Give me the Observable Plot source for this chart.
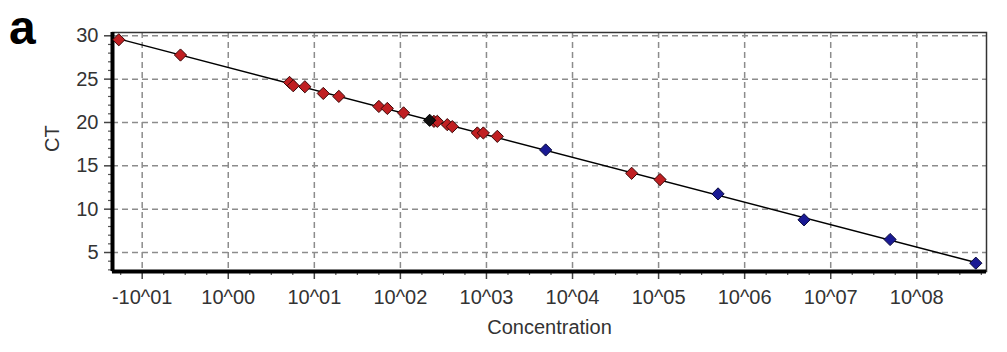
<!DOCTYPE html>
<html><head><meta charset="utf-8">
<script src="https://cdn.jsdelivr.net/npm/d3@7"></script>
<script src="https://cdn.jsdelivr.net/npm/@observablehq/plot@0.6"></script>
<style>
html,body{margin:0;padding:0;background:#fff;}
#wrap{position:relative;width:1007px;height:352px;overflow:hidden;}
#panel{position:absolute;left:9px;top:0px;font:bold 48px "Liberation Sans",Arial,sans-serif;line-height:normal;color:#000;}
</style></head><body>
<div id="wrap"><div id="panel">a</div><div id="chart"></div></div>
<script>
// log10(concentration) and CT values
const logConc = [-1.272, -0.555, 0.712, 0.755, 0.890, 1.104, 1.285, 1.750, 1.848, 2.037,
                 2.340, 2.390, 2.429, 2.545, 2.603, 2.894, 2.964, 3.126, 3.688, 4.687,
                 5.017, 5.691, 6.690, 7.690, 8.686];
const ct = [29.54, 27.78, 24.62, 24.24, 24.12, 23.35, 23.01, 21.85, 21.62, 21.11,
            20.25, 20.13, 20.13, 19.75, 19.52, 18.79, 18.79, 18.40, 16.83, 14.14,
            13.41, 11.76, 8.77, 6.50, 3.77];
const sampleType = ["unknown","unknown","unknown","unknown","unknown","unknown","unknown","unknown","unknown","unknown",
                    "selected","unknown","unknown","unknown","unknown","unknown","unknown","unknown","standard","unknown",
                    "unknown","standard","standard","standard","standard"];
const xTickValues = [-1, 0, 1, 2, 3, 4, 5, 6, 7, 8];
const xTickLabels = ["-10^01","10^00","10^01","10^02","10^03","10^04","10^05","10^06","10^07","10^08"];
const yTickValues = [5, 10, 15, 20, 25, 30];
const xLabel = "Concentration";
const yLabel = "CT";

const rows = logConc.map((x, i) => ({x, y: ct[i], type: sampleType[i]}));
const xDomain = [-1.345, 8.81];
const yDomain = [2.81, 30.38];
const xMinor = d3.range(-1.25, 8.8, 0.25).filter(v => !Number.isInteger(v));
const yMinor = d3.range(3, 31, 1).filter(v => v % 5 !== 0);

const font = '"Liberation Sans", Arial, sans-serif';
const grid = {stroke: "#8c8c8c", strokeOpacity: 1, strokeWidth: 1.5, strokeDasharray: "6,4"};

const chart = Plot.plot({
  width: 1007,
  height: 352,
  marginTop: 32,
  marginBottom: 81,
  marginLeft: 112,
  marginRight: 21,
  style: {fontFamily: font, fontSize: "20px", color: "#333", background: "#fff"},
  x: {domain: xDomain},
  y: {domain: yDomain},
  marks: [
    Plot.gridX(xTickValues, grid),
    Plot.gridY(yTickValues, grid),
    Plot.axisX(xTickValues, {tickSize: 8, tickPadding: 10, stroke: "#444", strokeWidth: 1.5,
      tickFormat: d => xTickLabels[xTickValues.indexOf(d)], label: null}),
    Plot.axisX(xMinor, {tickSize: 4, stroke: "#555", strokeWidth: 1.2, text: null, label: null}),
    Plot.axisY(yTickValues, {tickSize: 8, tickPadding: 6, stroke: "#444", strokeWidth: 1.5, label: null}),
    Plot.axisY(yMinor, {tickSize: 4, stroke: "#555", strokeWidth: 1.2, text: null, label: null}),
    Plot.text([xLabel], {frameAnchor: "bottom", dy: 62, fontSize: 20, fill: "#333"}),
    Plot.text([yLabel], {frameAnchor: "left", dx: -60, rotate: -90, fontSize: 20, fill: "#333"}),
    Plot.frame({stroke: "#333", strokeWidth: 1.5}),
    Plot.ruleX([xDomain[0]], {stroke: "#000", strokeWidth: 4}),
    Plot.ruleY([yDomain[0]], {stroke: "#000", strokeWidth: 4}),
    Plot.linearRegressionY(rows, {x: "x", y: "y", ci: 0, stroke: "#000", strokeWidth: 1.5}),
    Plot.dot(rows.filter(d => d.type === "unknown"), {x: "x", y: "y", symbol: "diamond2", r: 5.5, fill: "#c01f22", stroke: "#3a0808", strokeWidth: 1}),
    Plot.dot(rows.filter(d => d.type === "standard"), {x: "x", y: "y", symbol: "diamond2", r: 5.5, fill: "#1a1a94", stroke: "#0a0a3a", strokeWidth: 1}),
    Plot.dot(rows.filter(d => d.type === "selected"), {x: "x", y: "y", symbol: "diamond2", r: 5.5, fill: "#111", stroke: "#000", strokeWidth: 1})
  ]
});
document.getElementById("chart").appendChild(chart);
</script>
</body></html>
